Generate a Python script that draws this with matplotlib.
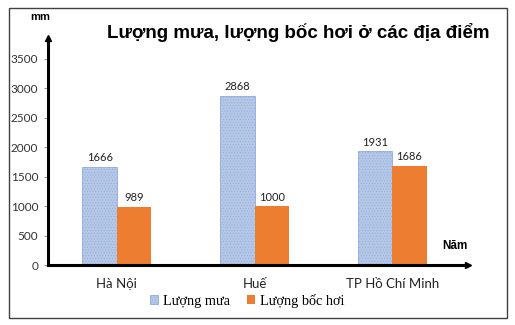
import matplotlib.pyplot as plt
import numpy as np
from matplotlib.patches import Rectangle

places = ["Hà Nội", "Huế", "TP Hồ Chí Minh"]
rain = [1666, 2868, 1931]
evap = [989, 1000, 1686]
yticks = [0, 500, 1000, 1500, 2000, 2500, 3000, 3500]

plt.rcParams['hatch.linewidth'] = 0.3

fig = plt.figure(figsize=(5.15, 3.25), dpi=100)
fig.patches.append(Rectangle((9/515, 7/325), 498/515, 310/325, transform=fig.transFigure,
                             fill=False, edgecolor="#404040", linewidth=1.0))

ax = fig.add_axes([48/515, 60/325, 420/515, 227/325])
x = np.arange(len(places))
w = 0.25
b1 = ax.bar(x - w/2, rain, w, color="#B4C7E7", edgecolor="#8FAADC", hatch="......",
            linewidth=0.6, label="Lượng mưa")
b2 = ax.bar(x + w/2, evap, w, color="#ED7D31", linewidth=0, label="Lượng bốc hơi")

for bars in (b1, b2):
    for r in bars:
        ax.text(r.get_x() + r.get_width()/2, r.get_height() + 60, f"{int(r.get_height())}",
                ha="center", va="bottom", fontsize=8, family="Lato", color="#222222")

ax.set_xlim(-0.5, 2.55)
ax.set_ylim(0, 3850)
ax.set_yticks(yticks)
ax.set_yticklabels([str(v) for v in yticks], family="Lato", fontsize=8.5, color="#333333")
ax.set_xticks(x)
ax.set_xticklabels(places, family="Lato", fontsize=9.5, color="#222222")
ax.tick_params(axis="x", length=0, pad=9)
ax.tick_params(axis="y", length=3, width=0.6, color="#888888", pad=4)
for s in ("top", "right"):
    ax.spines[s].set_visible(False)
ax.spines["left"].set_linewidth(2.2)
ax.spines["bottom"].set_linewidth(2.2)
ax.plot(1, 0, ">", transform=ax.get_yaxis_transform(), color="black", ms=5, clip_on=False)
ax.plot(0, 1, "^", transform=ax.transAxes, color="black", ms=5, clip_on=False)

fig.text(40/515, 1 - 17/325, "mm", fontsize=8, weight="bold", family="Liberation Sans",
         ha="center", va="center")
fig.text(455/515, 1 - 246/325, "Năm", fontsize=8.5, weight="bold", family="Liberation Sans",
         ha="center", va="center")
fig.text(298/515, 1 - 33/325, "Lượng mưa, lượng bốc hơi ở các địa điểm", fontsize=13.5,
         weight="bold", family="Liberation Sans", ha="center", va="center")

leg = fig.legend(handles=[b1, b2], loc="center", bbox_to_anchor=(247/515, 1 - 301/325), ncol=2,
                 frameon=False, prop={"family": "Liberation Serif", "size": 10.3},
                 handlelength=0.6, handleheight=0.6, handletextpad=0.3, columnspacing=1.2)

fig.savefig("out.png", dpi=100)
